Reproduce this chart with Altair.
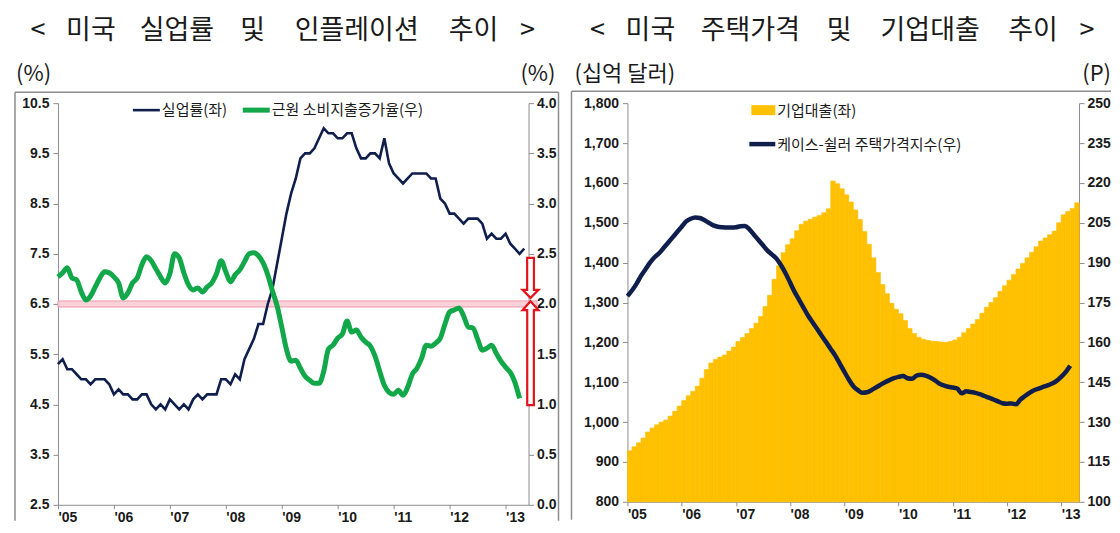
import altair as alt
import pandas as pd

# ---------------- data (monthly, from Jan 2005) ----------------
unemp = [5.3, 5.4, 5.2, 5.2, 5.1, 5.0, 5.0, 4.9, 5.0, 5.0, 5.0, 4.9,
         4.7, 4.8, 4.7, 4.7, 4.6, 4.6, 4.7, 4.7, 4.5, 4.4, 4.5, 4.4,
         4.6, 4.5, 4.4, 4.5, 4.4, 4.6, 4.7, 4.6, 4.7, 4.7, 4.7, 5.0,
         5.0, 4.9, 5.1, 5.0, 5.4, 5.6, 5.8, 6.1, 6.1, 6.5, 6.8, 7.3,
         7.8, 8.3, 8.7, 9.0, 9.4, 9.5, 9.5, 9.6, 9.8, 10.0, 9.9, 9.9,
         9.8, 9.8, 9.9, 9.9, 9.6, 9.4, 9.4, 9.5, 9.5, 9.4, 9.8, 9.3,
         9.1, 9.0, 8.9, 9.0, 9.1, 9.1, 9.1, 9.1, 9.0, 9.0, 8.6, 8.5,
         8.3, 8.3, 8.2, 8.1, 8.2, 8.2, 8.2, 8.1, 7.8, 7.9, 7.8, 7.8,
         7.9, 7.7, 7.6, 7.5, 7.6]

core_pce = [2.27, 2.31, 2.36, 2.26, 2.24, 2.12, 2.04, 2.08, 2.17, 2.26, 2.32, 2.31,
            2.27, 2.21, 2.06, 2.11, 2.21, 2.26, 2.39, 2.47, 2.43, 2.35, 2.27, 2.21,
            2.30, 2.50, 2.46, 2.31, 2.19, 2.14, 2.16, 2.12, 2.17, 2.21, 2.30, 2.43,
            2.32, 2.22, 2.29, 2.34, 2.42, 2.50, 2.51, 2.48, 2.41, 2.29, 2.13, 1.98,
            1.77, 1.55, 1.43, 1.44, 1.36, 1.28, 1.24, 1.21, 1.21, 1.33, 1.55, 1.59,
            1.66, 1.70, 1.83, 1.72, 1.74, 1.67, 1.62, 1.58, 1.48, 1.33, 1.19, 1.12,
            1.10, 1.14, 1.09, 1.17, 1.30, 1.36, 1.46, 1.59, 1.58, 1.61, 1.66, 1.80,
            1.92, 1.94, 1.96, 1.88, 1.77, 1.76, 1.65, 1.54, 1.56, 1.59, 1.51, 1.43,
            1.37, 1.32, 1.22, 1.06]

loans = [928, 938, 948, 960, 975, 985, 993, 1000, 1005, 1015, 1027, 1040,
         1054, 1066, 1077, 1090, 1110, 1132, 1148, 1157, 1163, 1168, 1178, 1188,
         1202, 1212, 1222, 1235, 1248, 1265, 1290, 1318, 1358, 1392, 1425, 1445,
         1460, 1480, 1496, 1504, 1509, 1514, 1518, 1525, 1535, 1605, 1598, 1585,
         1570, 1552, 1532, 1508, 1478, 1446, 1412, 1375, 1345, 1322, 1298, 1283,
         1272, 1255, 1235, 1222, 1213, 1208, 1205, 1203, 1202, 1201, 1200, 1202,
         1206, 1213, 1224, 1235, 1246, 1257, 1273, 1288, 1300, 1312, 1328, 1342,
         1356, 1370, 1384, 1398, 1412, 1426, 1440, 1454, 1462, 1470, 1479, 1500,
         1520, 1528, 1536, 1550]

cs_index = [177.4, 179.5, 182.0, 185.0, 187.5, 190.0, 192.0, 193.5, 195.5, 197.5, 199.5, 201.5,
            203.5, 205.5, 206.5, 207.0, 206.8, 206.0, 205.0, 204.0, 203.5, 203.3, 203.2, 203.2,
            203.3, 203.7, 203.8, 202.5, 200.5, 198.5, 196.5, 194.5, 193.0, 191.5, 189.0, 186.0,
            182.5, 179.0, 176.0, 173.0, 170.0, 167.5, 165.0, 162.5, 160.0, 157.5, 155.0, 152.0,
            149.0, 146.0, 143.5, 142.0, 141.0, 141.2, 142.0, 143.0, 144.0, 145.0, 145.8, 146.5,
            147.0, 147.3, 146.5, 146.3, 147.5, 147.8, 147.5, 146.8, 145.8, 144.5, 143.8, 143.3,
            143.0, 142.6, 140.8, 141.6, 141.3, 141.0, 140.5, 139.8, 139.2, 138.5, 137.8, 137.1,
            136.9, 137.0, 136.7, 138.5, 139.8, 141.0, 142.0, 142.6, 143.2, 143.8, 144.5, 145.5,
            147.0, 148.8, 151.2]

year_ticks = [2005, 2006, 2007, 2008, 2009, 2010, 2011, 2012, 2013]
unemp_ticks = [2.5, 3.5, 4.5, 5.5, 6.5, 7.5, 8.5, 9.5, 10.5]
pce_ticks = [0.0, 0.5, 1.0, 1.5, 2.0, 2.5, 3.0, 3.5, 4.0]
loan_ticks = [800, 900, 1000, 1100, 1200, 1300, 1400, 1500, 1600, 1700, 1800]
cs_ticks = [100, 115, 130, 145, 160, 175, 190, 205, 220, 235, 250]

left_title_words = ["<", "미국", "실업률", "및", "인플레이션", "추이", ">"]
right_title_words = ["<", "미국", "주택가격", "및", "기업대출", "추이", ">"]

target_rate = [2.0]          # 2% inflation reference band
arrow_down = [2.26]          # arrow 2.5 -> 2.0
arrow_up = [1.51]            # arrow 1.0 -> 2.0
arrow_t = [2013.446]

def month_frame(values):
    return pd.DataFrame({"t": [2005 + i / 12 for i in range(len(values))],
                         "t2": [2005 + (i + 1) / 12 for i in range(len(values))],
                         "v": values})

df_u = month_frame(unemp)
df_p = month_frame(core_pce)
df_l = month_frame(loans)
df_c = month_frame(cs_index)
one = pd.DataFrame({"a": [0]})

# ---------------- style ----------------
KR = "Noto Sans CJK KR"
NUM = "Liberation Sans"
NAVY = "#0F1E4C"
GREEN = "#12A84A"
GOLD = "#FFC000"
GRAY = "#8C8C8C"
RED = "#E3141B"
TXT = "#1A1A1A"

def x_axis():
    return alt.Axis(values=year_ticks,
                    labelExpr="\"'\" + substring(toString(datum.value), 2, 4)",
                    labelAlign="left", labelFlush=False,
                    tickSize=4, labelPadding=2, domainColor=GRAY, tickColor=GRAY,
                    labelFont=NUM, labelFontWeight="bold", labelFontSize=14,
                    labelColor=TXT, grid=False, title=None)

def y_axis(vals, orient, fmt):
    return alt.Axis(values=vals, orient=orient, format=fmt, tickSize=5,
                    labelPadding=4 if orient == "left" else 3,
                    domainColor=GRAY, tickColor=GRAY, labelFont=NUM,
                    labelFontWeight="bold", labelFontSize=14, labelColor=TXT,
                    grid=False, title=None, labelFlush=False)

def text(s, x, y, size, align="left", font=KR, weight="normal"):
    return alt.Chart(one).mark_text(text=s, align=align, baseline="middle", font=font,
                                    fontSize=size, fontWeight=weight, color=TXT).encode(
        x=alt.value(x), y=alt.value(y))

def rule(x, y, x2, y2, color=GRAY, width=1.5):
    return alt.Chart(one).mark_rule(color=color, strokeWidth=width).encode(
        x=alt.value(x), y=alt.value(y), x2=alt.value(x2), y2=alt.value(y2))

def title_words(words, centers, y):
    return [text(w, c, y, 27, align="center", weight="normal") for w, c in zip(words, centers)]

# ---------------- left chart ----------------
LW, LH = 471, 402
xs_l = alt.Scale(domain=[2005, 2013.41], nice=False, zero=False)
ys_u = alt.Scale(domain=[2.5, 10.5], nice=False, zero=False)
ys_p = alt.Scale(domain=[0, 4], nice=False, zero=False)

u_line = alt.Chart(df_u).mark_line(color=NAVY, strokeWidth=2.6).encode(
    x=alt.X("t:Q", scale=xs_l, axis=x_axis()),
    y=alt.Y("v:Q", scale=ys_u, axis=y_axis(unemp_ticks, "left", ".1f")))

p_line = alt.Chart(df_p).mark_line(color=GREEN, strokeWidth=5, interpolate="monotone").encode(
    x=alt.X("t:Q", scale=xs_l),
    y=alt.Y("v:Q", scale=ys_p, axis=y_axis(pce_ticks, "right", ".1f")))

band_df = pd.DataFrame({"t": [2005], "t2": [2013.56],
                        "lo": [target_rate[0] - 0.03], "hi": [target_rate[0] + 0.03]})
band = alt.Chart(band_df).mark_rect(fill="#FAD3DA", stroke="#EE98A8", strokeWidth=1).encode(
    x=alt.X("t:Q", scale=xs_l), x2="t2:Q",
    y=alt.Y("lo:Q", scale=ys_p, axis=None), y2="hi:Q")

down_path = "M-0.17,-1L0.17,-1L0.17,0.6L0.4,0.6L0,1L-0.4,0.6L-0.17,0.6Z"
up_path = "M0,-1L0.154,-0.827L0.064,-0.827L0.064,1L-0.064,1L-0.064,-0.827L-0.154,-0.827Z"
arr1 = alt.Chart(pd.DataFrame({"t": arrow_t, "v": arrow_down})).mark_point(
    shape=down_path, size=1600, fill="white", stroke=RED, strokeWidth=2.2, opacity=1,
    filled=False, fillOpacity=1).encode(
    x=alt.X("t:Q", scale=xs_l), y=alt.Y("v:Q", scale=ys_p, axis=None))
arr2 = alt.Chart(pd.DataFrame({"t": arrow_t, "v": arrow_up})).mark_point(
    shape=up_path, size=10816, fill="white", stroke=RED, strokeWidth=2.2, opacity=1,
    filled=False, fillOpacity=1).encode(
    x=alt.X("t:Q", scale=xs_l), y=alt.Y("v:Q", scale=ys_p, axis=None))

left_deco = [
    rule(-43, -11, -43, 418), rule(-43, -11, 501, -11), rule(501, -11, 501, 418),
    *title_words(left_title_words, [-20, 33, 119, 195, 299, 416, 470], -72),
    text("(%)", -42, -29, 22),
    text("(%)", 498, -29, 22, align="right"),
    rule(75, 7, 102, 7, color=NAVY, width=2.6),
    text("실업률(좌)", 104, 7, 15),
    rule(185, 7, 212, 7, color=GREEN, width=5),
    text("근원 소비지출증가율(우)", 214, 7, 15),
]

left = alt.layer(band, u_line, p_line, arr1, arr2, *left_deco).resolve_scale(
    y="independent").properties(width=LW, height=LH)

# ---------------- right chart ----------------
RW, RH = 452, 399
xs_r = alt.Scale(domain=[2005, 2013.33], nice=False, zero=False)
ys_l = alt.Scale(domain=[800, 1800], nice=False, zero=False)
ys_c = alt.Scale(domain=[100, 250], nice=False, zero=False)

bars = alt.Chart(df_l).mark_rect(color=GOLD, stroke=GOLD, strokeWidth=0.6).encode(
    x=alt.X("t:Q", scale=xs_r, axis=x_axis()), x2="t2:Q",
    y=alt.Y("v:Q", scale=ys_l, axis=y_axis(loan_ticks, "left", ",d")),
    y2=alt.Y2(datum=800))

cs_line = alt.Chart(df_c).mark_line(color=NAVY, strokeWidth=4.5, interpolate="monotone").encode(
    x=alt.X("t:Q", scale=xs_r),
    y=alt.Y("v:Q", scale=ys_c, axis=y_axis(cs_ticks, "right", "d")))

right_deco = [
    rule(-56, -12, -56, 417), rule(-56, -12, 484, -12),
    *title_words(right_title_words, [-30, 23, 123, 212, 303, 406, 460], -72),
    text("(십억 달러)", -53, -29, 22),
    text("(P)", 484, -29, 22, align="right"),
    alt.Chart(one).mark_rect(color=GOLD).encode(
        x=alt.value(124), x2=alt.value(148), y=alt.value(2), y2=alt.value(12)),
    text("기업대출(좌)", 150, 8, 15),
    rule(122, 41, 148, 41, color=NAVY, width=4.5),
    text("케이스-쉴러 주택가격지수(우)", 150, 42, 15),
]

right = alt.layer(bars, cs_line, *right_deco).resolve_scale(
    y="independent").properties(width=RW, height=RH)

chart = alt.hconcat(left, right, spacing=99, bounds="flush").properties(
    padding={"left": 6, "top": 9, "right": 0, "bottom": 0},
    background="white",
).configure_view(stroke=None)

chart.save("out.html", embed_options={"renderer": "svg", "actions": False})
